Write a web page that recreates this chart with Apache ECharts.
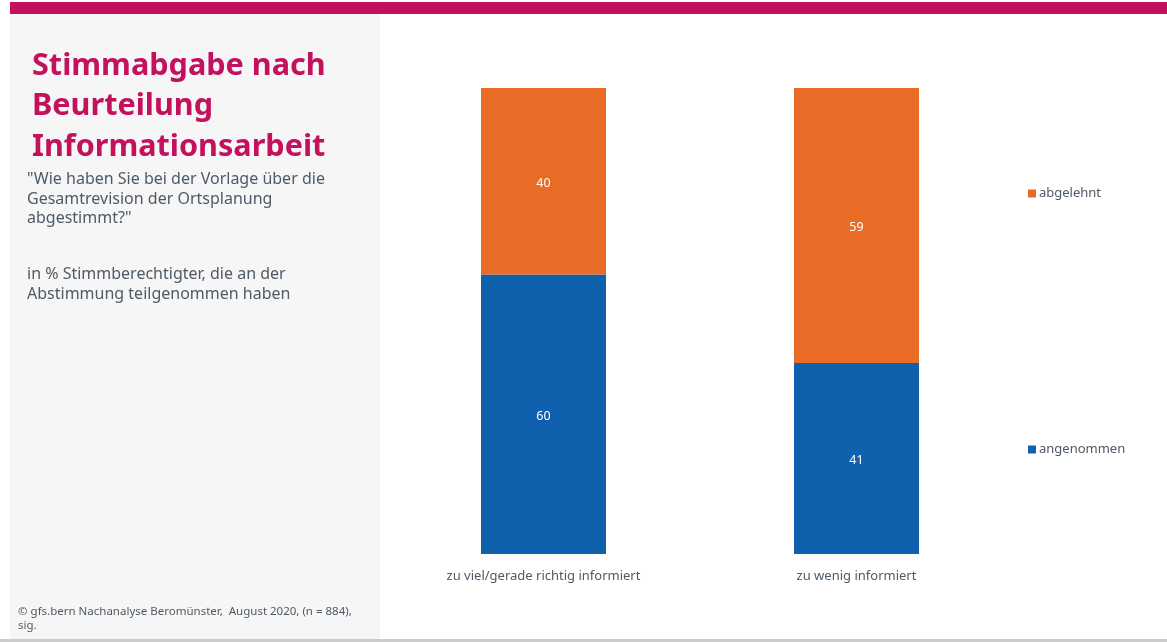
<!DOCTYPE html>
<html>
<head>
<meta charset="utf-8">
<script src="https://cdn.jsdelivr.net/npm/echarts@6/dist/echarts.min.js"></script>
<style>
  html, body { margin: 0; padding: 0; background: #ffffff; }
  #chart { width: 1167px; height: 642px; }
</style>
</head>
<body>
<div id="chart"></div>
<script>
// Vote by assessment of the information work (in %)
const categories = ['zu viel/gerade richtig informiert', 'zu wenig informiert'];
const angenommen = [60, 41];
const abgelehnt = [40, 59];

const seriesNames = ['angenommen', 'abgelehnt'];
const colors = { angenommen: '#0F61AE', abgelehnt: '#E96B25' };

const titleLines = ['Stimmabgabe nach', 'Beurteilung', 'Informationsarbeit'];
const questionLines = ['"Wie haben Sie bei der Vorlage über die', 'Gesamtrevision der Ortsplanung', 'abgestimmt?"'];
const baseLines = ['in % Stimmberechtigter, die an der', 'Abstimmung teilgenommen haben'];
const sourceLines = ['© gfs.bern Nachanalyse Beromünster,  August 2020, (n = 884),', 'sig.'];

const textColor = '#4E5A66';
const sansFont = '"Noto Sans", "Open Sans", sans-serif';

const chart = echarts.init(document.getElementById('chart'), null, { renderer: 'canvas' });

const labelStyle = {
  show: true,
  position: 'inside',
  offset: [0, 2],
  color: '#ffffff',
  fontSize: 12.5,
  fontFamily: sansFont
};

chart.setOption({
  animation: false,
  backgroundColor: '#ffffff',
  graphic: [
    // top accent stripe
    { type: 'rect', left: 10, top: 2, shape: { width: 1157, height: 12 }, style: { fill: '#C4115E' }, z: 0 },
    // left text panel
    { type: 'rect', left: 10, top: 14, shape: { width: 370, height: 625 }, style: { fill: '#F6F6F6' }, z: 0 },
    // bottom rule
    { type: 'rect', left: 0, top: 639, shape: { width: 1167, height: 3 }, style: { fill: '#CCCCCC' }, z: 0 },
    {
      type: 'text', left: 32, top: 46, z: 5,
      style: {
        text: titleLines.join('\n'), fill: '#C4115E',
        font: 'bold 30.6px ' + sansFont, lineHeight: 40.5
      }
    },
    {
      type: 'text', left: 27, top: 170, z: 5,
      style: {
        text: questionLines.join('\n'), fill: textColor,
        font: '16px ' + sansFont, lineHeight: 19.5
      }
    },
    {
      type: 'text', left: 27, top: 265, z: 5,
      style: {
        text: baseLines.join('\n'), fill: textColor,
        font: '16px ' + sansFont, lineHeight: 19.5
      }
    },
    {
      type: 'text', left: 18, top: 604, z: 5,
      style: {
        text: sourceLines.join('\n'), fill: textColor,
        font: '11.5px ' + sansFont, lineHeight: 14.5
      }
    }
  ],
  legend: {
    orient: 'vertical',
    left: 1023,
    top: 182,
    itemWidth: 8,
    itemHeight: 8,
    itemGap: 243,
    icon: 'rect',
    data: ['abgelehnt', 'angenommen'],
    textStyle: { color: textColor, fontSize: 13, fontFamily: sansFont, padding: [0, 0, 0, -2] }
  },
  grid: { left: 387, right: 154, top: 88, bottom: 88, containLabel: false },
  xAxis: {
    type: 'category',
    data: categories,
    axisLine: { show: false },
    axisTick: { show: false },
    axisLabel: { color: textColor, fontSize: 13, fontFamily: sansFont, margin: 16 }
  },
  yAxis: {
    type: 'value',
    min: 0,
    max: 100,
    show: false,
    splitLine: { show: false }
  },
  series: [
    {
      name: seriesNames[0], type: 'bar', stack: 'vote', barWidth: 125,
      data: angenommen, itemStyle: { color: colors.angenommen }, label: labelStyle
    },
    {
      name: seriesNames[1], type: 'bar', stack: 'vote', barWidth: 125,
      data: abgelehnt, itemStyle: { color: colors.abgelehnt }, label: labelStyle
    }
  ]
});
</script>
</body>
</html>
